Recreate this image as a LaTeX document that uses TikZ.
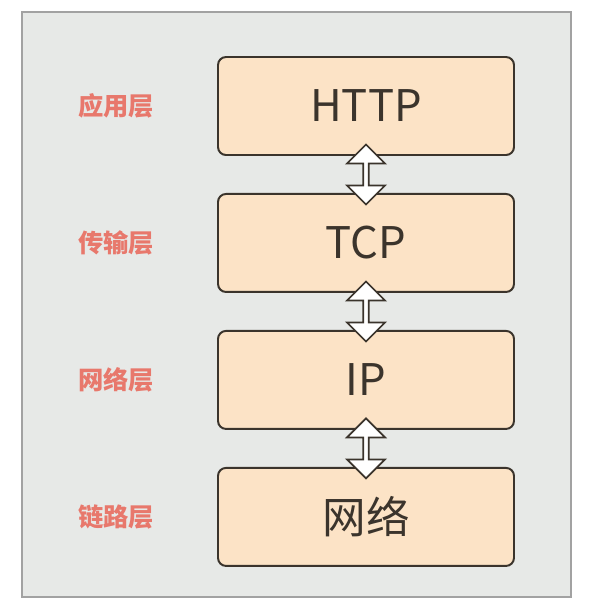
\documentclass[tikz,border=0pt]{standalone}
\usepackage{fontspec}
\setmainfont{Noto Sans CJK SC}
\usepackage{xcolor}
\usetikzlibrary{positioning, calc, shapes.arrows}
\definecolor{panelgray}{HTML}{E7E9E7}
\definecolor{panelline}{HTML}{A2A2A2}
\definecolor{boxfill}{HTML}{FCE3C6}
\definecolor{boxline}{HTML}{3B342C}
\definecolor{labelred}{HTML}{E8786C}

\begin{document}
\begin{tikzpicture}[
    font=\fontsize{31}{37}\selectfont,
    ceng/.style={draw=boxline, line width=1.4pt, rounded corners=0.2cm, fill=boxfill,
                 minimum width=7.4cm, minimum height=2.45cm, text=boxline},
    mingzi/.style={font=\fontsize{18}{22}\selectfont\bfseries, text=labelred},
    shuang/.style={double arrow, draw=boxline, fill=white, line width=1.2pt,
                   shape border rotate=90, minimum height=1.5cm, minimum width=0.95cm,
                   inner sep=0pt, double arrow head extend=0.12cm},
    node distance=0.925cm
  ]
    \path[use as bounding box] (0,0) rectangle (15,-15.375);
    \draw[panelline, fill=panelgray, line width=2pt] (0.55,-0.3) rectangle (14.275,-14.925);
    % the four layers
    \node[ceng] (http) at (9.15,-2.65) {HTTP};
    \node[ceng, below=of http] (tcp) {TCP};
    \node[ceng, below=of tcp] (ip) {IP};
    \node[ceng, below=of ip] (wl) {网络};
    % layer names on the left
    \coordinate (lx) at (2.9,0);
    \node[mingzi] (m-app) at (http -| lx) {应用层};
    \node[mingzi] (m-tcp) at (tcp -| lx) {传输层};
    \node[mingzi] (m-ip) at (ip -| lx) {网络层};
    \node[mingzi] (m-wl) at (wl -| lx) {链路层};
    % arrows between layers
    \foreach \a/\b in {http/tcp, tcp/ip, ip/wl}
      \node[shuang] (j-\a) at ($(\a.south)!0.5!(\b.north)$) {};
\end{tikzpicture}
\end{document}
